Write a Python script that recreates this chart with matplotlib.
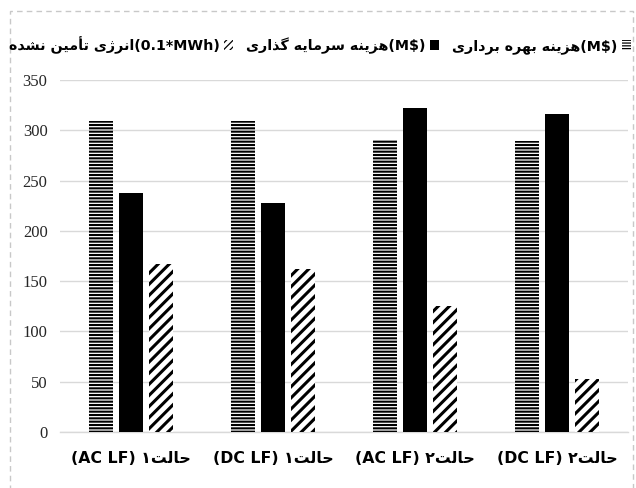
import matplotlib
matplotlib.use('Agg')
import matplotlib.pyplot as plt
import numpy as np
from matplotlib.patches import Rectangle, Patch

# ---------------- data ----------------
cat_prefix = ['حالت۱', 'حالت۱', 'حالت۲', 'حالت۲']
cat_suffix = ['(AC LF)', '(DC LF)', '(AC LF)', '(DC LF)']
series_ar = ['هزینه بهره برداری', 'هزینه سرمایه گذاری', 'انرژی تأمین نشده']
series_unit = ['(M$)', '(M$)', '(0.1*MWh)']
operation_cost = [309, 309, 290, 289]
investment_cost = [238, 228, 322, 316]
energy_not_supplied = [167, 162, 125, 53]
yticks = [0, 50, 100, 150, 200, 250, 300, 350]

# ------------- minimal Arabic shaping -------------
DUAL = {
    'ب': ('\uFE8F', '\uFE90', '\uFE91', '\uFE92'),
    'ت': ('\uFE95', '\uFE96', '\uFE97', '\uFE98'),
    'ح': ('\uFEA1', '\uFEA2', '\uFEA3', '\uFEA4'),
    'س': ('\uFEB1', '\uFEB2', '\uFEB3', '\uFEB4'),
    'ش': ('\uFEB5', '\uFEB6', '\uFEB7', '\uFEB8'),
    'ل': ('\uFEDD', '\uFEDE', '\uFEDF', '\uFEE0'),
    'م': ('\uFEE1', '\uFEE2', '\uFEE3', '\uFEE4'),
    'ن': ('\uFEE5', '\uFEE6', '\uFEE7', '\uFEE8'),
    'ه': ('\uFEE9', '\uFEEA', '\uFEEB', '\uFEEC'),
    'ی': ('\uFBFC', '\uFBFD', '\uFBFE', '\uFBFF'),
    'گ': ('\uFB92', '\uFB93', '\uFB94', '\uFB95'),
}
RIGHT = {
    'ا': ('\uFE8D', '\uFE8E'),
    'أ': ('\uFE83', '\uFE84'),
    'د': ('\uFEA9', '\uFEAA'),
    'ذ': ('\uFEAB', '\uFEAC'),
    'ر': ('\uFEAD', '\uFEAE'),
    'ز': ('\uFEAF', '\uFEB0'),
    'ژ': ('\uFB8A', '\uFB8B'),
}


def shape_rtl(s):
    out = []
    n = len(s)
    for i, ch in enumerate(s):
        prev = s[i - 1] if i > 0 else ''
        nxt = s[i + 1] if i < n - 1 else ''
        jp = prev in DUAL and (ch in DUAL or ch in RIGHT)
        jn = ch in DUAL and (nxt in DUAL or nxt in RIGHT)
        if ch in DUAL:
            iso, fin, ini, med = DUAL[ch]
            out.append(med if (jp and jn) else fin if jp else ini if jn else iso)
        elif ch in RIGHT:
            iso, fin = RIGHT[ch]
            out.append(fin if jp else iso)
        else:
            out.append(ch)
    return ''.join(reversed(out))


W, H = 636, 488
fig = plt.figure(figsize=(W / 100, H / 100), dpi=100)
ax = fig.add_axes([60 / W, 1 - 432 / H, (628 - 60) / W, (432 - 80) / H])

x = np.arange(len(cat_prefix))
bw = 0.17
step = 0.213
plt.rcParams['hatch.linewidth'] = 1.5
ax.bar(x - step, operation_cost, bw, facecolor='white', edgecolor='black',
       hatch='-----', linewidth=0, zorder=3)
ax.bar(x, investment_cost, bw, facecolor='black', edgecolor='black',
       linewidth=0, zorder=3)
plt.rcParams['hatch.linewidth'] = 2.2
ax.bar(x + step, energy_not_supplied, bw, facecolor='white', edgecolor='black',
       hatch='///', linewidth=0, zorder=3)

ax.set_xlim(-0.5, len(cat_prefix) - 0.5)
ax.set_ylim(0, 350)
ax.set_yticks(yticks)
ax.yaxis.grid(True, color='#d9d9d9', linewidth=1.0, zorder=0)
ax.set_axisbelow(True)
for sp in ['top', 'right', 'left']:
    ax.spines[sp].set_visible(False)
ax.spines['bottom'].set_color('#d9d9d9')
ax.spines['bottom'].set_linewidth(1.0)
ax.tick_params(axis='both', length=0)
ax.tick_params(axis='y', labelsize=12, pad=9)
for lab in ax.get_yticklabels():
    lab.set_fontfamily('Liberation Serif')
    lab.set_color('#262626')

ax.set_xticks(x)
ax.set_xticklabels([suf + ' ' + shape_rtl(pre) for pre, suf in zip(cat_prefix, cat_suffix)],
                   fontsize=11.3, fontweight='bold', fontfamily='DejaVu Sans')
ax.tick_params(axis='x', pad=14)

# legend (visual left-to-right order, marker to the right of text)
plt.rcParams['hatch.linewidth'] = 1.4
h_diag = Patch(facecolor='white', edgecolor='black', hatch='/////', linewidth=0)
h_solid = Patch(facecolor='black', edgecolor='black', linewidth=0)
plt.rcParams['hatch.linewidth'] = 0.9
h_horiz = Patch(facecolor='white', edgecolor='black', hatch='------', linewidth=0)
handles = [h_diag, h_solid, h_horiz]
labels = [shape_rtl(a) + u for a, u in zip(series_ar[::-1], series_unit[::-1])]
fig.legend(handles, labels, loc='center', bbox_to_anchor=(0.503, 1 - 45 / H),
           ncol=3, frameon=False, markerfirst=False,
           prop={'family': 'DejaVu Sans', 'weight': 'bold', 'size': 10.3},
           handlelength=0.65, handleheight=0.65, handletextpad=0.3,
           columnspacing=0.9)

# dashed chart border
fig.add_artist(Rectangle((10 / W, -0.05), (633 - 10) / W, 1 - 11 / H + 0.05,
                         transform=fig.transFigure, fill=False,
                         edgecolor='#c8c8c8', linestyle=(0, (4, 3)), linewidth=1))

fig.savefig('out.png', dpi=100)
